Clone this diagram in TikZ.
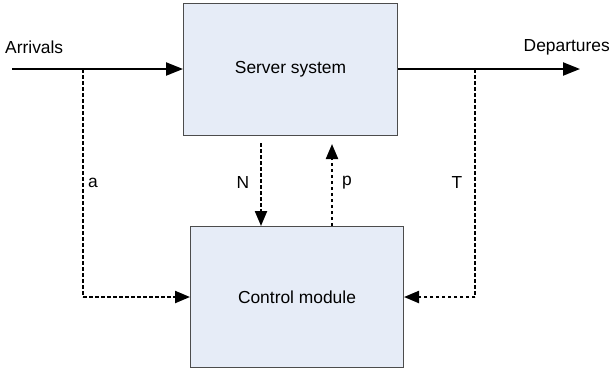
\documentclass[tikz,border=0pt]{standalone}
\usepackage{fontspec}
\setmainfont{Liberation Sans}
\usetikzlibrary{arrows.meta}
\begin{document}
\begin{tikzpicture}[x=1pt,y=-1pt,
  box/.style={draw=black!70,line width=1pt,fill={rgb,255:red,230;green,236;blue,247},inner sep=0pt},
  lbl/.style={font=\fontsize{17.4}{20}\selectfont,inner sep=0pt},
  flow/.style={line width=2.2pt,-{Triangle[length=17pt,width=13pt]}},
  fb/.style={line width=2.2pt,dash pattern=on 3.5pt off 2.5pt,-{Triangle[length=15pt,width=12pt]}},
  fbl/.style={line width=2.2pt,dash pattern=on 3.5pt off 2.5pt}]
\useasboundingbox (0,0) rectangle (611,373);
\node[box,minimum width=214pt,minimum height=132pt,anchor=north west] (srv) at (183,3) {};
\node[lbl] at (srv.center) {Server system};
\node[box,minimum width=213pt,minimum height=141pt,anchor=north west] (ctl) at (190,226) {};
\node[lbl] at (ctl.center) {Control module};
\coordinate (in) at (12,69);
\coordinate (out) at (580,69);
\coordinate (ja) at (83,69);
\coordinate (jt) at (475,69);
\coordinate (ca) at (83,297);
\coordinate (ct) at (475,297);
\draw[flow] (in) -- (ja) -- (srv.west |- in);
\draw[flow] (srv.east |- out) -- (jt) -- (out);
\draw[fbl] (ja) -- (ca);
\draw[fb] (ca) -- (ctl.west |- ca);
\draw[fbl] (jt) -- (ct);
\draw[fb] (ct) -- (ctl.east |- ct);
\coordinate (ns) at (261,143);
\coordinate (pe) at (332,144);
\draw[fb] (ns) -- (ns |- ctl.north);
\draw[fb] (pe |- ctl.north) -- (pe);
\node[lbl,anchor=west] (arr) at (5,47) {Arrivals};
\node[lbl,anchor=east] (dep) at (610,47) {Departures};
\node[lbl] (la) at (93,183) {a};
\node[lbl] (ln) at (243,183) {N};
\node[lbl] (lp) at (347,183) {p};
\node[lbl] (lt) at (457,183) {T};
\end{tikzpicture}
\end{document}
